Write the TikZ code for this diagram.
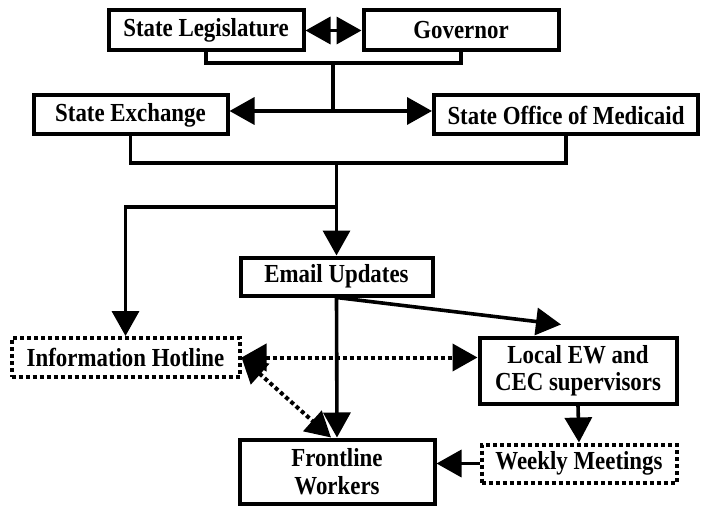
\documentclass[tikz,border=0pt]{standalone}
\usepackage{fontspec}
\setmainfont{Liberation Serif}[FakeStretch=0.88]
\usetikzlibrary{arrows.meta}

\begin{document}
\begin{tikzpicture}[
    x=1pt, y=-1pt,
    >={Triangle[length=25pt,width=27pt]},
    every node/.style={font=\fontsize{26}{27.5}\selectfont\bfseries, align=center, inner sep=0pt},
    box/.style={draw, line width=4pt},
    dotbox/.style={draw, line width=4pt, dash pattern=on 4pt off 3pt},
    line/.style={line width=3.6pt},
    link/.style={line width=3.6pt, ->},
    dotlink/.style={line width=4pt, dash pattern=on 4pt off 3pt, <->},
]
  \useasboundingbox (0,0) rectangle (702,508);
  % state level
  \node[box, minimum width=195, minimum height=40] (leg) at (206,30.5) {State Legislature};
  \node[box, minimum width=195, minimum height=40] (gov) at (461,30.5) {Governor};
  \node[box, minimum width=194, minimum height=39] (exch) at (130.5,115) {State Exchange};
  \node[box, minimum width=264, minimum height=39] (med) at (566,115) {State Office of Medicaid};
  % channels
  \node[box, minimum width=192, minimum height=38] (email) at (336.5,276.5) {Email Updates};
  \node[dotbox, minimum width=228, minimum height=39] (hot) at (125.5,357.5) {Information Hotline};
  \node[box, minimum width=197, minimum height=66] (local) at (578,370.5) {Local EW and\\CEC supervisors};
  \node[dotbox, minimum width=195, minimum height=38] (weekly) at (579,463.5) {Weekly Meetings};
  \node[box, minimum width=195, minimum height=64] (front) at (337,471.5) {Frontline\\Workers};
  % junctions
  \coordinate (jt) at (333,63);
  \coordinate (js) at (333,111);
  \coordinate (jb) at (336.5,163);
  \coordinate (jh) at (336.5,207);
  % top brackets
  \draw[line, <->] (leg.east) -- (gov.west);
  \draw[line] (leg.south) |- (jt) -| (gov.south);
  \draw[line] (jt) -- (js);
  \draw[link] (js) -- (js -| exch.east);
  \draw[link] (js) -- (js -| med.west);
  \draw[line] (exch.south) |- (jb) -| (med.south);
  \draw[link] (jb) -- (email.north);
  \draw[link] (jh) -| (hot.north);
  % email fan-out
  \draw[link] (email.south) -- ([xshift=-17pt,yshift=11pt]local.north);
  \draw[link] (email.south) -- (front.north);
  \draw[link] (local.south) -- (weekly.north);
  \draw[link] (weekly.west) -- (weekly.west -| front.east);
  % hotline links
  \draw[dotlink] (hot.east) -- (hot.east -| local.west);
  \draw[dotlink] (hot.east) -- ([xshift=-6pt]front.north);
\end{tikzpicture}
\end{document}
